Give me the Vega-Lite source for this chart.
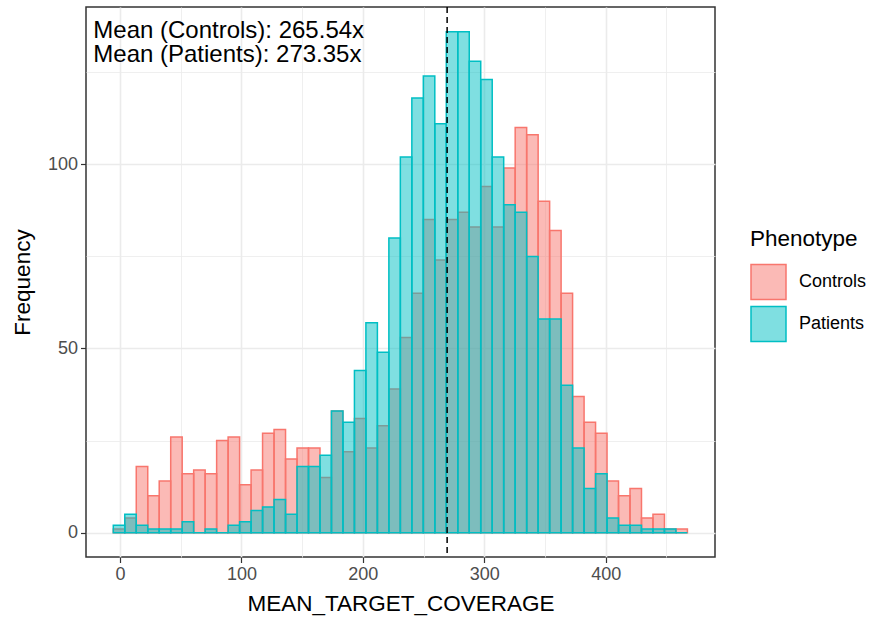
{
  "$schema": "https://vega.github.io/schema/vega-lite/v6.json",
  "width": 629,
  "height": 550,
  "autosize": {"type": "none"},
  "padding": {"left": 86, "top": 7, "right": 156, "bottom": 62},
  "background": "white",
  "config": {
    "font": "Liberation Sans",
    "view": {"stroke": "#333333", "strokeWidth": 1.5},
    "axis": {
      "domain": false,
      "gridColor": "#EBEBEB",
      "tickColor": "#333333",
      "tickWidth": 1.2,
      "tickSize": 5.5,
      "labelColor": "#4D4D4D",
      "labelFont": "Liberation Sans",
      "labelFontSize": 18,
      "titleFont": "Liberation Sans",
      "titleFontSize": 22.5,
      "titleFontWeight": "normal",
      "titleColor": "#000000"
    }
  },
  "datasets": {
    "bins": [
      {"bin_start": -5.52, "bin_end": 3.94, "Controls": 1, "Patients": 2},
      {"bin_start": 3.94, "bin_end": 13.39, "Controls": 4, "Patients": 5},
      {"bin_start": 13.39, "bin_end": 22.85, "Controls": 18, "Patients": 2},
      {"bin_start": 22.85, "bin_end": 32.30, "Controls": 10, "Patients": 1},
      {"bin_start": 32.30, "bin_end": 41.76, "Controls": 14, "Patients": 1},
      {"bin_start": 41.76, "bin_end": 51.22, "Controls": 26, "Patients": 1},
      {"bin_start": 51.22, "bin_end": 60.67, "Controls": 16, "Patients": 3},
      {"bin_start": 60.67, "bin_end": 70.13, "Controls": 17, "Patients": 0},
      {"bin_start": 70.13, "bin_end": 79.58, "Controls": 16, "Patients": 1},
      {"bin_start": 79.58, "bin_end": 89.04, "Controls": 25, "Patients": 0},
      {"bin_start": 89.04, "bin_end": 98.50, "Controls": 26, "Patients": 2},
      {"bin_start": 98.50, "bin_end": 107.95, "Controls": 13, "Patients": 3},
      {"bin_start": 107.95, "bin_end": 117.41, "Controls": 17, "Patients": 6},
      {"bin_start": 117.41, "bin_end": 126.86, "Controls": 27, "Patients": 7},
      {"bin_start": 126.86, "bin_end": 136.32, "Controls": 28, "Patients": 9},
      {"bin_start": 136.32, "bin_end": 145.78, "Controls": 20, "Patients": 5},
      {"bin_start": 145.78, "bin_end": 155.23, "Controls": 23, "Patients": 18},
      {"bin_start": 155.23, "bin_end": 164.69, "Controls": 23, "Patients": 18},
      {"bin_start": 164.69, "bin_end": 174.14, "Controls": 15, "Patients": 21},
      {"bin_start": 174.14, "bin_end": 183.60, "Controls": 33, "Patients": 33},
      {"bin_start": 183.60, "bin_end": 193.06, "Controls": 22, "Patients": 30},
      {"bin_start": 193.06, "bin_end": 202.51, "Controls": 31, "Patients": 44},
      {"bin_start": 202.51, "bin_end": 211.97, "Controls": 23, "Patients": 57},
      {"bin_start": 211.97, "bin_end": 221.42, "Controls": 29, "Patients": 49},
      {"bin_start": 221.42, "bin_end": 230.88, "Controls": 39, "Patients": 80},
      {"bin_start": 230.88, "bin_end": 240.34, "Controls": 53, "Patients": 102},
      {"bin_start": 240.34, "bin_end": 249.79, "Controls": 65, "Patients": 118},
      {"bin_start": 249.79, "bin_end": 259.25, "Controls": 85, "Patients": 124},
      {"bin_start": 259.25, "bin_end": 268.70, "Controls": 74, "Patients": 111},
      {"bin_start": 268.70, "bin_end": 278.16, "Controls": 85, "Patients": 136},
      {"bin_start": 278.16, "bin_end": 287.62, "Controls": 87, "Patients": 136},
      {"bin_start": 287.62, "bin_end": 297.07, "Controls": 83, "Patients": 128},
      {"bin_start": 297.07, "bin_end": 306.53, "Controls": 94, "Patients": 123},
      {"bin_start": 306.53, "bin_end": 315.98, "Controls": 83, "Patients": 102},
      {"bin_start": 315.98, "bin_end": 325.44, "Controls": 99, "Patients": 89},
      {"bin_start": 325.44, "bin_end": 334.90, "Controls": 110, "Patients": 87},
      {"bin_start": 334.90, "bin_end": 344.35, "Controls": 108, "Patients": 75},
      {"bin_start": 344.35, "bin_end": 353.81, "Controls": 90, "Patients": 58},
      {"bin_start": 353.81, "bin_end": 363.26, "Controls": 82, "Patients": 58},
      {"bin_start": 363.26, "bin_end": 372.72, "Controls": 65, "Patients": 40},
      {"bin_start": 372.72, "bin_end": 382.18, "Controls": 37, "Patients": 23},
      {"bin_start": 382.18, "bin_end": 391.63, "Controls": 30, "Patients": 12},
      {"bin_start": 391.63, "bin_end": 401.09, "Controls": 27, "Patients": 16},
      {"bin_start": 401.09, "bin_end": 410.54, "Controls": 14, "Patients": 4},
      {"bin_start": 410.54, "bin_end": 420.00, "Controls": 10, "Patients": 2},
      {"bin_start": 420.00, "bin_end": 429.46, "Controls": 12, "Patients": 2},
      {"bin_start": 429.46, "bin_end": 438.91, "Controls": 4, "Patients": 1},
      {"bin_start": 438.91, "bin_end": 448.37, "Controls": 5, "Patients": 1},
      {"bin_start": 448.37, "bin_end": 457.82, "Controls": 1, "Patients": 1},
      {"bin_start": 457.82, "bin_end": 467.28, "Controls": 1, "Patients": 0}
    ],
    "overall": [{"mean_coverage": 269.4}],
    "annotation": [{"text": "Mean (Controls): 265.54x\nMean (Patients): 273.35x"}]
  },
  "layer": [
    {
      "data": {"name": "bins"},
      "transform": [
        {"fold": ["Controls", "Patients"], "as": ["Phenotype", "count"]},
        {"filter": "datum.Phenotype === 'Controls'"}
      ],
      "mark": {"type": "bar", "strokeWidth": 1.5},
      "encoding": {
        "x": {
          "field": "bin_start", "type": "quantitative",
          "scale": {"domain": [-28, 490], "nice": false, "zero": false},
          "axis": {
            "title": "MEAN_TARGET_COVERAGE",
            "values": [0, 50, 100, 150, 200, 250, 300, 350, 400, 450],
            "labelExpr": "datum.value % 100 === 0 ? datum.label : ''",
            "tickOpacity": {"condition": {"test": "datum.value % 100 === 0", "value": 1}, "value": 0},
            "gridWidth": {"condition": {"test": "datum.value % 100 === 0", "value": 1.6}, "value": 0.8},
            "labelPadding": 3,
            "titlePadding": 9
          }
        },
        "x2": {"field": "bin_end"},
        "y": {
          "field": "count", "type": "quantitative", "stack": null,
          "scale": {"domain": [-6.6, 142.7], "nice": false, "zero": false},
          "axis": {
            "title": "Frequency",
            "values": [0, 25, 50, 75, 100, 125],
            "labelExpr": "datum.value % 50 === 0 ? datum.label : ''",
            "tickOpacity": {"condition": {"test": "datum.value % 50 === 0", "value": 1}, "value": 0},
            "gridWidth": {"condition": {"test": "datum.value % 50 === 0", "value": 1.6}, "value": 0.8},
            "labelPadding": 3,
            "titlePadding": 13
          }
        },
        "y2": {"datum": 0},
        "fill": {
          "field": "Phenotype", "type": "nominal",
          "scale": {"domain": ["Controls", "Patients"], "range": ["rgba(248,118,109,0.5)", "rgba(0,191,196,0.5)"]},
          "legend": {
            "title": "Phenotype",
            "orient": "none",
            "legendX": 664,
            "legendY": 221,
            "padding": 0,
            "symbolType": "square",
            "symbolSize": 1225,
            "symbolStrokeWidth": 1.5,
            "titleFont": "Liberation Sans",
            "titleFontSize": 22.5,
            "titleFontWeight": "normal",
            "titleColor": "#000000",
            "titlePadding": 13,
            "labelFont": "Liberation Sans",
            "labelFontSize": 18,
            "labelColor": "#000000",
            "labelOffset": 12,
            "rowPadding": 1
          }
        },
        "stroke": {
          "field": "Phenotype", "type": "nominal",
          "scale": {"domain": ["Controls", "Patients"], "range": ["#F8766D", "#00BFC4"]},
          "legend": {
            "title": "Phenotype",
            "orient": "none",
            "legendX": 664,
            "legendY": 221,
            "padding": 0,
            "symbolType": "square",
            "symbolSize": 1225,
            "symbolStrokeWidth": 1.5,
            "titleFont": "Liberation Sans",
            "titleFontSize": 22.5,
            "titleFontWeight": "normal",
            "titleColor": "#000000",
            "titlePadding": 13,
            "labelFont": "Liberation Sans",
            "labelFontSize": 18,
            "labelColor": "#000000",
            "labelOffset": 12,
            "rowPadding": 1
          }
        }
      }
    },
    {
      "data": {"name": "bins"},
      "transform": [
        {"fold": ["Controls", "Patients"], "as": ["Phenotype", "count"]},
        {"filter": "datum.Phenotype === 'Patients'"}
      ],
      "mark": {"type": "bar", "strokeWidth": 1.5},
      "encoding": {
        "x": {"field": "bin_start", "type": "quantitative"},
        "x2": {"field": "bin_end"},
        "y": {"field": "count", "type": "quantitative", "stack": null},
        "y2": {"datum": 0},
        "fill": {"field": "Phenotype", "type": "nominal"},
        "stroke": {"field": "Phenotype", "type": "nominal"}
      }
    },
    {
      "data": {"name": "overall"},
      "mark": {"type": "rule", "color": "#000000", "strokeWidth": 1.5, "strokeDash": [6, 4]},
      "encoding": {
        "x": {"field": "mean_coverage", "type": "quantitative"}
      }
    },
    {
      "data": {"name": "annotation"},
      "mark": {"type": "text", "align": "left", "baseline": "top", "font": "Liberation Sans", "fontSize": 24, "lineHeight": 24.3, "lineBreak": "\n", "color": "#000000"},
      "encoding": {
        "x": {"datum": -22},
        "y": {"datum": 139.5},
        "text": {"field": "text", "type": "nominal"}
      }
    }
  ]
}
